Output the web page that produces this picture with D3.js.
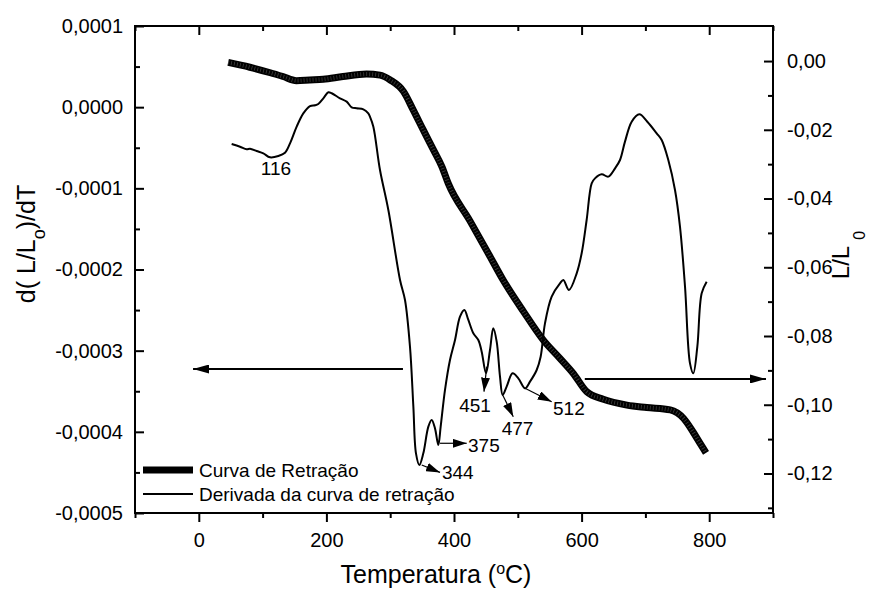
<!DOCTYPE html>
<html><head><meta charset="utf-8">
<script src="https://cdn.jsdelivr.net/npm/d3@7"></script>
<style>
body{margin:0;background:#fff;}
text{font-family:"Liberation Sans",Arial,sans-serif;fill:#000;}
</style></head>
<body><svg id="c" width="871" height="590"></svg>
<script>
// ---- data ----
const xTicks = [0, 200, 400, 600, 800];
const xTickLabels = ["0", "200", "400", "600", "800"];
const yLeftTicks = [0.0001, 0, -0.0001, -0.0002, -0.0003, -0.0004, -0.0005];
const yLeftTickLabels = ["0,0001", "0,0000", "-0,0001", "-0,0002", "-0,0003", "-0,0004", "-0,0005"];
const yRightTicks = [0, -0.02, -0.04, -0.06, -0.08, -0.10, -0.12];
const yRightTickLabels = ["0,00", "-0,02", "-0,04", "-0,06", "-0,08", "-0,10", "-0,12"];

// Curva de Retração (right axis, ΔL/Lo)
const shrinkT = [46,80,112,132,153,174,195,226,263,284,300,321,336,352,368,381,391,425,456,477,509,540,566,587,608,634,671,702,739,760,775,785,795];
const shrinkV = [-0.0004,-0.0018,-0.0034,-0.0045,-0.0057,-0.0055,-0.0053,-0.0045,-0.0038,-0.0041,-0.0055,-0.0089,-0.0142,-0.0201,-0.0259,-0.0307,-0.0356,-0.0465,-0.0567,-0.0637,-0.0729,-0.0812,-0.0865,-0.0909,-0.0962,-0.0984,-0.1001,-0.1008,-0.1015,-0.1040,-0.1080,-0.1110,-0.1140];

// Derivada da curva de retração (left axis)
const derivT = [51.5,64.6,75,80.3,90.7,101.1,111.6,124.7,135.1,143,153.4,163.8,174.3,182.1,187.3,195.2,203,208.3,221.3,231.8,239.6,247.4,257.9,265.7,268.3,273.6,284,297.1,315.4,323.2,331,336.3,340.4,345.7,351.9,359.8,365,370.2,375.4,379.1,385.9,393.7,401.6,409.4,416.2,422.5,430.3,438.1,443.4,450.2,456.4,461.6,466.9,472.1,476.3,482.5,491.9,500.8,511.3,519.1,529.6,535.8,542.6,553.1,566.1,571.4,580.2,592.3,600.1,607.9,615.8,621,631.4,641.9,652.4,660.2,668,678.5,690.5,703,717.7,725.5,735.9,746.4,754.2,762.1,769.9,775.1,781.4,788.2,796];
const derivV = [-0.0000454,-0.0000487,-0.0000519,-0.0000511,-0.000054,-0.0000569,-0.0000618,-0.0000602,-0.0000561,-0.0000446,-0.000024,-0.0000076,0.0000014,0.0000023,0.0000039,0.0000109,0.0000183,0.0000171,0.0000109,0.0000068,-0.0000002,-0.0000014,-0.0000027,-0.0000076,-0.0000117,-0.000024,-0.0000774,-0.0001267,-0.0002129,-0.0002376,-0.0002951,-0.000369,-0.0004265,-0.0004408,-0.0004265,-0.0003936,-0.0003854,-0.0003957,-0.0004162,-0.0003936,-0.0003484,-0.0003115,-0.0002868,-0.0002581,-0.0002499,-0.0002622,-0.0002786,-0.0002868,-0.0003012,-0.0003279,-0.0002992,-0.0002725,-0.0002889,-0.000332,-0.0003546,-0.0003443,-0.0003279,-0.0003341,-0.0003464,-0.0003382,-0.0003238,-0.0003074,-0.0002663,-0.0002334,-0.000217,-0.0002129,-0.0002252,-0.0002047,-0.00018,-0.000139,-0.0000938,-0.0000877,-0.0000827,-0.0000856,-0.0000754,-0.0000651,-0.0000425,-0.0000179,-0.0000088,-0.0000179,-0.0000322,-0.0000404,-0.0000651,-0.000102,-0.0001472,-0.0002211,-0.0003156,-0.0003279,-0.0002951,-0.0002293,-0.000215];

// peak annotations (left-axis units): label, arrow from (T,v) to (T,v), text anchor (T,v)
const peakLabels = ["344", "375", "451", "477", "512"];
const peakArrowFrom = [[349.4,-0.0004408],[378.1,-0.0004141],[451.3,-0.0003197],[476.3,-0.0003546],[511.3,-0.0003464]];
const peakArrowTo = [[378.1,-0.0004500],[419.9,-0.0004141],[447.0,-0.0003505],[492.9,-0.0003813],[553.1,-0.0003629]];
const peakTextPos = [[406,-0.0004587],[422,-0.0004248],[432.9,-0.0003756],[499.5,-0.0004039],[555.2,-0.0003792]];
const peakTextAnchor = ["middle","start","middle","middle","start"];
const label116 = {text:"116", T:121, v:-0.0000836};
// axis-pointing arrows
const leftArrow = {from:320, to:-9, v:-0.0003226};     // left axis units
const rightArrow = {from:605, to:889, v:-0.0925};      // right axis units
const legendLabels = ["Curva de Retração", "Derivada da curva de retração"];

// ---- layout ----
const L = 135, R = 773, T0 = 26, B = 513;
const svg = d3.select("#c");
const x = d3.scaleLinear().domain([-100, 900]).range([L, R]);
const yL = d3.scaleLinear().domain([-0.0005, 0.0001]).range([B, T0]);
const yR = d3.scaleLinear().domain([-0.1315, 0.0102]).range([B, T0]);

const defs = svg.append("defs");
function mk(id, w, h){
  defs.append("marker").attr("id", id).attr("viewBox", `0 0 ${w} ${h}`)
    .attr("refX", w).attr("refY", h/2).attr("markerWidth", w).attr("markerHeight", h)
    .attr("markerUnits","userSpaceOnUse").attr("orient","auto")
    .append("path").attr("d", `M0,0L${w},${h/2}L0,${h}Z`).attr("fill","#000");
}
mk("ahBig", 16, 9);
mk("ahSmall", 14, 9);

// axes
function styleAxis(g){
  g.select(".domain").remove();
  g.selectAll("line").attr("stroke","#000").attr("stroke-width",2);
  g.selectAll("text").style("font-size","20px").style("font-family",'"Liberation Sans",Arial,sans-serif');
}
const xMinor = [-100,100,300,500,700,900];
const lMinor = [0.00005,-0.00005,-0.00015,-0.00025,-0.00035,-0.00045];
const rMinor = [-0.01,-0.03,-0.05,-0.07,-0.09,-0.11,-0.13];

// bottom
svg.append("g").attr("transform",`translate(0,${B})`)
  .call(d3.axisBottom(x).tickValues(xTicks).tickSize(9).tickPadding(11).tickFormat((d,i)=>xTickLabels[i])).call(styleAxis);
svg.append("g").attr("transform",`translate(0,${B})`)
  .call(d3.axisBottom(x).tickValues(xMinor).tickSize(5).tickFormat("")).call(styleAxis);
// top
svg.append("g").attr("transform",`translate(0,${T0})`)
  .call(d3.axisTop(x).tickValues(xTicks).tickSize(-9).tickFormat("")).call(styleAxis);
svg.append("g").attr("transform",`translate(0,${T0})`)
  .call(d3.axisTop(x).tickValues(xMinor).tickSize(-5).tickFormat("")).call(styleAxis);
// left
svg.append("g").attr("transform",`translate(${L},0)`)
  .call(d3.axisLeft(yL).tickValues(yLeftTicks).tickSize(-9).tickPadding(12).tickFormat((d,i)=>yLeftTickLabels[i])).call(styleAxis);
svg.append("g").attr("transform",`translate(${L},0)`)
  .call(d3.axisLeft(yL).tickValues(lMinor).tickSize(-5).tickFormat("")).call(styleAxis);
// right
svg.append("g").attr("transform",`translate(${R},0)`)
  .call(d3.axisRight(yR).tickValues(yRightTicks).tickSize(-9).tickPadding(14).tickFormat((d,i)=>yRightTickLabels[i])).call(styleAxis);
svg.append("g").attr("transform",`translate(${R},0)`)
  .call(d3.axisRight(yR).tickValues(rMinor).tickSize(-5).tickFormat("")).call(styleAxis);

// frame
svg.append("rect").attr("x",L).attr("y",T0).attr("width",R-L).attr("height",B-T0)
  .attr("fill","none").attr("stroke","#000").attr("stroke-width",2);

// curves
const shrink = shrinkT.map((t,i)=>[t, shrinkV[i]]);
const deriv = derivT.map((t,i)=>[t, derivV[i]]);
const shrinkLine = d3.line().x(d=>x(d[0])).y(d=>yR(d[1])).curve(d3.curveMonotoneX);
svg.append("path").datum(shrink).attr("d", shrinkLine)
  .attr("fill","none").attr("stroke","#000").attr("stroke-width",7);
// subtle symbol texture of the thick curve
svg.append("path").datum(shrink).attr("d", shrinkLine)
  .attr("fill","none").attr("stroke","#888").attr("stroke-width",4)
  .attr("stroke-dasharray","0.8,2.2").attr("opacity",0.45);
svg.append("path").datum(deriv)
  .attr("d", d3.line().x(d=>x(d[0])).y(d=>yL(d[1])).curve(d3.curveCatmullRom.alpha(0.5)))
  .attr("fill","none").attr("stroke","#000").attr("stroke-width",2).attr("stroke-linejoin","round");

// axis arrows
svg.append("line").attr("x1",x(leftArrow.from)).attr("x2",x(leftArrow.to))
  .attr("y1",yL(leftArrow.v)).attr("y2",yL(leftArrow.v))
  .attr("stroke","#000").attr("stroke-width",2).attr("marker-end","url(#ahBig)");
svg.append("line").attr("x1",x(rightArrow.from)).attr("x2",x(rightArrow.to))
  .attr("y1",yR(rightArrow.v)).attr("y2",yR(rightArrow.v))
  .attr("stroke","#000").attr("stroke-width",2).attr("marker-end","url(#ahBig)");

// peak annotations
peakLabels.forEach((lab,i)=>{
  svg.append("line")
    .attr("x1",x(peakArrowFrom[i][0])).attr("y1",yL(peakArrowFrom[i][1]))
    .attr("x2",x(peakArrowTo[i][0])).attr("y2",yL(peakArrowTo[i][1]))
    .attr("stroke","#000").attr("stroke-width",1.2).attr("marker-end","url(#ahSmall)");
  svg.append("text").attr("x",x(peakTextPos[i][0])).attr("y",yL(peakTextPos[i][1]))
    .attr("text-anchor",peakTextAnchor[i]).style("font-size","19px").text(lab);
});
svg.append("text").attr("x",x(label116.T)).attr("y",yL(label116.v))
  .attr("text-anchor","middle").style("font-size","19px").text(label116.text);

// legend
const lg = svg.append("g");
[[470,7],[494,2]].forEach((s,i)=>{
  lg.append("line").attr("x1",143).attr("x2",193).attr("y1",s[0]).attr("y2",s[0])
    .attr("stroke","#000").attr("stroke-width",s[1]);
  lg.append("text").attr("x",199).attr("y",s[0] + 7).style("font-size","19px").text(legendLabels[i]);
});

// axis titles
svg.append("text").attr("x",436).attr("y",583).attr("text-anchor","middle").style("font-size","25px")
  .html('Temperatura (<tspan dy="-9" font-size="16px">o</tspan><tspan dy="9">C)</tspan>');
const lt = svg.append("text").attr("transform",`translate(35,244) rotate(-90)`)
  .attr("text-anchor","middle").style("font-size","25px");
lt.append("tspan").text("d(   L/L");
lt.append("tspan").attr("dy",10).style("font-size","18px").text("o");
lt.append("tspan").attr("dy",-10).text(")/dT");
const rt = svg.append("text").attr("transform",`translate(849,255) rotate(-90)`)
  .attr("text-anchor","middle").style("font-size","24px");
rt.append("tspan").text("   L/L");
rt.append("tspan").attr("dy",16).attr("dx",6).style("font-size","16px").text("0");
</script></body></html>
